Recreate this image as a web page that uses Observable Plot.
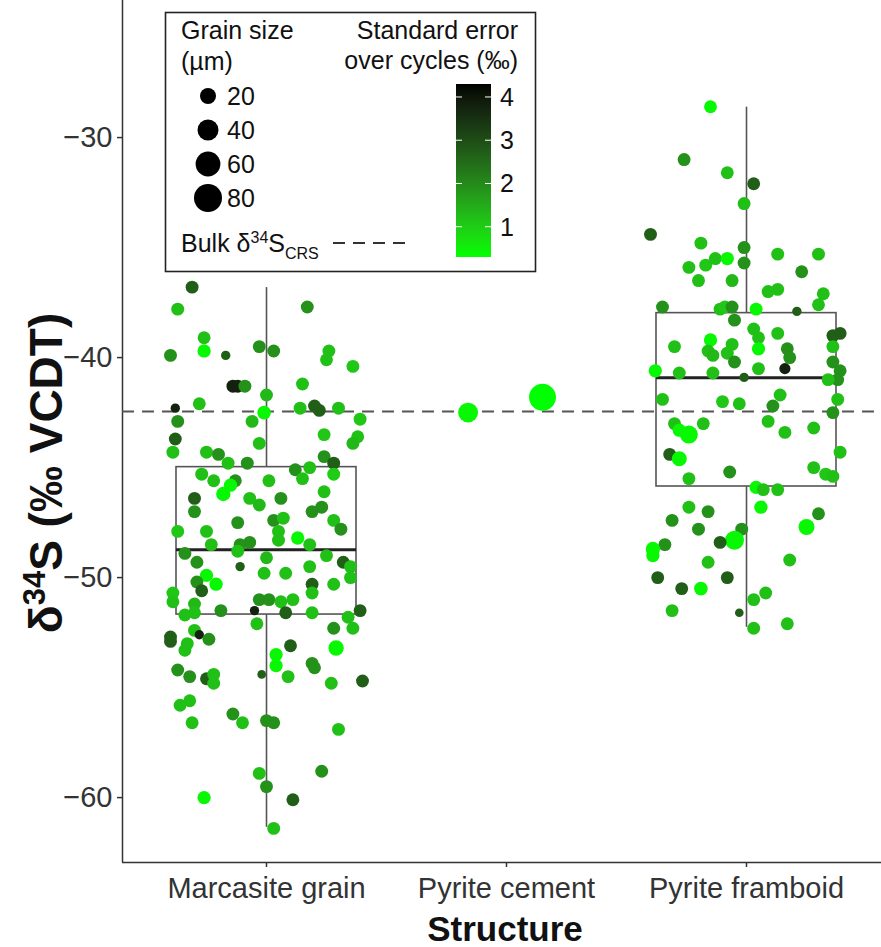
<!DOCTYPE html>
<html>
<head>
<meta charset="utf-8">
<script src="https://cdn.jsdelivr.net/npm/d3@7"></script>
<script src="https://cdn.jsdelivr.net/npm/@observablehq/plot@0.6"></script>
<style>
  html, body { margin: 0; padding: 0; background: #fff; }
  #wrap { position: relative; width: 881px; height: 947px; font-family: "Liberation Sans", Arial, sans-serif; }
  #wrap > svg { position: absolute; left: 0; top: 0; }
</style>
</head>
<body>
<div id="wrap"></div>
<script>
// ---------- data ----------
const categories = ["Marcasite grain", "Pyrite cement", "Pyrite framboid"];
const yTicks = [-60, -50, -40, -30];
const bulkD34S = -42.45;           // Bulk δ34S CRS
const seLegendTicks = [1, 2, 3, 4];
const sizeLegendValues = [20, 40, 60, 80];

// box statistics
const boxCategory = ["Marcasite grain", "Pyrite framboid"];
const boxLower  = [-61.35, -52.26];
const boxQ1     = [-51.68, -45.86];
const boxMedian = [-48.74, -40.92];
const boxQ3     = [-44.98, -37.98];
const boxUpper  = [-36.82, -28.62];

// Marcasite grain
const marcD34S = [
-36.8,-37.8,-37.7,-39.1,-39.7,-39.9,-39.9,-39.5,-39.7,-39.7,
-40.1,-40.4,-41.3,-41.3,-41.3,-41.7,-41.2,-42.1,-42.3,-42.9,
-42.5,-42.3,-42.2,-42.4,-42.3,-42.8,-42.9,-43.7,-44.3,-44.3,
-44.4,-43.9,-43.5,-43.6,-43.9,-44.5,-44.8,-44.8,-44.8,-45.1,
-45.0,-45.5,-45.3,-45.3,-45.6,-45.6,-45.6,-45.8,-46.2,-46.4,
-46.4,-46.7,-46.4,-46.1,-47.0,-47.0,-46.8,-47.5,-47.4,-47.3,
-47.9,-47.4,-47.8,-47.9,-47.9,-48.2,-48.3,-48.4,-48.5,-48.5,
-48.5,-48.9,-48.8,-49.1,-49.3,-49.5,-49.8,-49.5,-49.3,-49.0,
-49.5,-49.9,-50.3,-50.2,-50.6,-49.8,-50.3,-50.3,-50.0,-50.7,
-50.7,-51.0,-51.0,-51.1,-51.0,-51.1,-51.2,-51.5,-51.7,-51.6,
-51.5,-51.6,-51.6,-51.8,-51.5,-52.1,-52.3,-52.3,-52.7,-52.9,
-52.4,-52.6,-52.8,-53.0,-53.3,-53.1,-53.2,-53.5,-54.0,-53.9,
-54.1,-54.2,-54.5,-54.6,-54.4,-54.8,-54.4,-54.5,-54.8,-54.7,
-55.8,-55.6,-56.6,-56.2,-56.6,-56.5,-56.6,-56.9,-58.9,-58.8,
-59.5,-60.0,-60.1,-61.4];
const marcJitter = [
-0.31,-0.37,0.17,-0.26,-0.26,-0.40,-0.17,-0.03,0.03,0.26,
0.25,0.36,-0.14,-0.12,-0.09,0.00,0.15,-0.28,-0.38,-0.37,
-0.01,0.14,0.20,0.22,0.30,0.39,-0.06,-0.38,-0.39,-0.25,
-0.20,-0.03,0.24,0.38,0.36,0.24,-0.16,-0.08,0.28,0.12,
0.18,0.15,0.28,-0.27,-0.22,-0.13,0.01,-0.15,-0.18,-0.30,
-0.07,-0.03,0.06,0.24,-0.30,0.19,0.23,-0.12,0.03,0.07,
0.05,0.28,0.31,-0.37,-0.25,0.13,0.05,-0.07,-0.23,-0.11,
0.18,-0.34,-0.12,0.00,-0.29,-0.11,0.08,0.18,0.32,0.25,
0.35,-0.25,-0.21,-0.29,-0.27,-0.01,0.19,0.28,0.35,-0.39,
0.19,-0.03,0.01,0.06,0.11,-0.39,-0.30,-0.19,-0.34,-0.30,
-0.05,0.08,0.19,0.34,0.39,-0.04,0.28,0.36,-0.40,-0.40,
-0.30,-0.28,-0.24,-0.33,-0.34,0.10,0.29,0.04,0.04,0.19,
0.20,-0.37,-0.32,-0.25,-0.22,-0.22,-0.02,0.09,0.27,0.40,
-0.36,-0.32,-0.31,-0.14,-0.10,0.00,0.03,0.30,-0.03,0.23,
0.00,-0.26,0.11,0.03];
const marcSE = [
2.7,1.2,1.9,1.2,0.4,1.9,2.7,1.9,1.9,1.2,
1.2,1.1,3.8,3.8,1.9,1.3,1.2,1.2,3.8,1.9,
0.4,1.2,2.7,2.7,1.2,1.1,1.3,2.7,1.2,1.2,
1.9,1.2,1.1,1.2,1.3,1.9,1.2,1.9,2.7,1.9,
1.2,1.2,1.0,1.2,1.2,1.9,1.2,0.4,0.4,2.7,
1.2,1.3,1.9,1.2,1.9,1.9,1.9,1.9,1.9,1.2,
1.2,1.2,1.9,1.1,1.2,0.4,1.2,1.9,1.2,1.9,
1.2,1.9,1.2,1.3,1.9,2.7,1.2,1.2,2.7,1.2,
1.2,0.4,0.4,1.9,2.7,1.2,2.7,1.2,1.2,1.1,
1.2,1.9,1.9,1.2,1.2,1.2,1.3,1.9,1.2,1.2,
3.8,2.7,1.2,1.2,2.7,1.2,1.9,1.2,2.7,2.7,
1.2,3.8,1.9,1.2,1.2,2.7,0.4,0.4,0.4,1.9,
1.9,1.9,1.9,2.7,1.2,1.2,2.7,1.2,1.2,2.7,
1.2,1.2,1.2,1.9,1.2,1.9,1.9,1.2,1.2,1.9,
1.9,0.4,2.7,1.2];
const marcSize = [
11,11,11,11,12,11,4,11,11,11,
11,11,11,11,11,11,11,11,4,11,
13,11,11,11,11,11,11,11,11,11,
11,11,11,11,11,11,11,11,11,11,
11,11,11,11,11,11,11,12,15,11,
11,11,11,11,11,11,11,11,11,11,
11,11,11,11,11,12,11,11,11,11,
11,11,11,11,11,4,11,11,11,11,
11,12,12,11,11,11,11,11,11,11,
11,11,11,11,11,11,11,11,11,11,
4,11,11,11,11,11,11,11,11,11,
11,4,11,11,11,11,18,12,12,11,
11,11,11,11,11,11,3,11,11,11,
11,11,11,11,11,11,11,11,11,11,
11,12,11,11];

// Pyrite cement
const cemD34S = [-42.5, -41.8];
const cemJitter = [-0.16, 0.15];
const cemSE = [0.4, 0.3];
const cemSize = [35, 73];

// Pyrite framboid
const framD34S = [
-28.6,-31.0,-31.6,-32.1,-33.0,-34.4,-34.8,-35.0,-35.7,-35.3,
-35.3,-35.9,-35.8,-35.5,-35.5,-36.5,-36.5,-36.1,-37.0,-36.9,
-37.1,-37.6,-37.7,-37.8,-37.7,-37.7,-38.3,-37.8,-37.9,-38.7,
-39.1,-39.6,-38.9,-39.5,-39.2,-39.7,-39.9,-39.4,-39.8,-40.2,
-39.6,-40.0,-40.5,-38.9,-39.0,-39.5,-40.2,-40.6,-41.0,-40.6,
-40.7,-40.7,-40.5,-40.9,-41.0,-41.9,-42.0,-42.1,-41.7,-42.2,
-41.9,-42.5,-43.0,-43.5,-43.0,-43.3,-42.9,-43.4,-43.2,-44.4,
-44.6,-45.2,-45.5,-44.3,-45.0,-45.3,-45.4,-45.9,-46.0,-46.0,
-46.8,-47.0,-46.8,-47.4,-47.8,-47.1,-47.7,-47.8,-48.3,-48.4,
-48.5,-48.7,-49.0,-49.3,-49.2,-50.0,-50.5,-50.5,-50.0,-51.5,
-51.0,-50.7,-51.6,-52.3,-52.1];
const framJitter = [
-0.15,-0.26,-0.08,0.03,-0.01,-0.40,-0.19,-0.01,-0.01,0.13,
0.30,-0.24,-0.17,-0.13,-0.08,-0.20,-0.06,0.23,0.09,0.13,
0.32,0.30,-0.35,-0.11,-0.09,-0.06,-0.05,0.04,0.21,0.03,
0.05,0.05,0.13,-0.30,-0.15,-0.16,-0.14,-0.06,-0.08,-0.05,
0.17,0.18,0.16,0.39,0.36,0.36,0.36,0.39,0.38,-0.38,
-0.28,-0.14,0.05,-0.01,0.34,-0.35,-0.10,-0.03,0.14,0.11,
0.38,0.36,-0.30,-0.24,-0.18,-0.28,0.09,0.16,0.28,-0.32,
-0.28,-0.07,-0.24,0.39,0.28,0.33,0.36,0.04,0.07,0.13,
-0.24,-0.16,0.06,-0.31,-0.20,0.30,0.25,-0.02,-0.05,-0.11,
-0.34,-0.39,-0.39,-0.16,0.18,-0.37,-0.27,-0.19,-0.08,-0.31,
0.03,0.08,-0.03,0.03,0.17];
const framSE = [
0.4,1.9,1.2,2.7,1.2,2.7,1.2,1.9,1.9,1.2,
1.2,1.2,1.1,1.2,0.4,1.2,1.3,1.9,1.2,1.2,
1.2,1.2,1.9,1.2,1.1,1.9,1.9,0.4,2.7,1.2,
1.2,0.4,1.2,1.2,0.4,1.2,1.3,1.2,1.2,1.9,
1.9,1.9,3.8,2.7,2.7,1.2,1.9,1.9,1.9,0.4,
1.2,1.2,1.2,2.7,1.2,1.2,1.1,1.2,1.2,1.9,
1.2,1.9,1.2,0.4,1.2,0.4,1.2,1.2,1.2,2.7,
0.4,1.9,1.2,1.2,1.2,1.1,1.2,0.4,1.2,1.2,
1.2,1.9,0.4,1.9,1.9,1.9,0.4,1.9,0.4,2.7,
1.9,0.4,0.4,1.2,1.2,2.7,2.7,0.4,2.7,1.2,
1.2,1.2,2.7,1.2,1.2];
const framSize = [
11,11,11,11,11,11,11,11,11,11,
11,11,11,11,12,11,11,11,11,11,
11,11,11,11,11,11,11,11,4,11,
11,12,11,11,12,11,11,11,11,11,
11,11,7,11,11,11,11,11,11,12,
11,11,11,4,11,11,11,11,11,11,
11,11,11,27,11,12,11,11,11,11,
17,11,11,11,11,11,11,12,11,11,
11,11,12,11,11,11,20,11,31,11,
11,15,12,11,11,11,11,13,11,11,
11,11,3,11,11];

// ---------- build tables ----------
function rows(cat, d34s, jit, se, size) {
  const idx = categories.indexOf(cat) + 1;
  return d34s.map((v, i) => ({structure: cat, pos: idx + jit[i], d34s: v, se: se[i], size: size[i]}));
}
const points = [
  ...rows("Marcasite grain", marcD34S, marcJitter, marcSE, marcSize),
  ...rows("Pyrite cement", cemD34S, cemJitter, cemSE, cemSize),
  ...rows("Pyrite framboid", framD34S, framJitter, framSE, framSize)
];
const boxes = boxCategory.map((c, i) => ({
  pos: categories.indexOf(c) + 1,
  lo: boxLower[i], q1: boxQ1[i], med: boxMedian[i], q3: boxQ3[i], hi: boxUpper[i]
}));

// ---------- scales ----------
const yDomain = [-62.95, -23.77];
const xDomain = [0.4, 3.5625];
const boxHalf = 0.375;
const colorOpts = {type: "linear", domain: [0.3, 4.3], range: ["#00ff00", "#000000"], interpolate: "lab"};
const rOpts = {type: "sqrt", domain: [0, 80], range: [2, 14]};
const fmt = d => d < 0 ? "\u2212" + Math.abs(d) : String(d);

const W = 881, H = 947, mL = 122, mB = 85;

const chart = Plot.plot({
  width: W, height: H,
  marginLeft: mL, marginRight: 0, marginTop: 0, marginBottom: mB,
  style: {fontFamily: "'Liberation Sans', Arial, sans-serif", background: "white", overflow: "visible"},
  x: {domain: xDomain, axis: null},
  y: {domain: yDomain, axis: null},
  r: rOpts,
  color: colorOpts,
  marks: [
    Plot.axisY({ticks: yTicks, tickFormat: fmt, tickSize: 5, tickPadding: 5, fontSize: 29, color: "#333", strokeWidth: 1.5, label: null}),
    Plot.axisX({ticks: [1, 2, 3], tickFormat: i => categories[i - 1], tickSize: 5, tickPadding: 10, fontSize: 29, color: "#333", strokeWidth: 1.5, label: null}),
    Plot.ruleX([xDomain[0]], {stroke: "#333", strokeWidth: 1.5}),
    Plot.ruleY([yDomain[0]], {stroke: "#333", strokeWidth: 1.5}),
    // whiskers
    Plot.ruleX(boxes, {x: "pos", y1: "lo", y2: "q1", stroke: "#555", strokeWidth: 1.6}),
    Plot.ruleX(boxes, {x: "pos", y1: "q3", y2: "hi", stroke: "#555", strokeWidth: 1.6}),
    // boxes
    Plot.rect(boxes, {x1: d => d.pos - boxHalf, x2: d => d.pos + boxHalf, y1: "q1", y2: "q3", fill: "none", stroke: "#555", strokeWidth: 1.6}),
    Plot.ruleY(boxes, {x1: d => d.pos - boxHalf, x2: d => d.pos + boxHalf, y: "med", stroke: "#222", strokeWidth: 3}),
    // bulk line
    Plot.ruleY([bulkD34S], {stroke: "#555", strokeWidth: 2, strokeDasharray: "12,8"}),
    // points
    Plot.dot(points, {x: "pos", y: "d34s", r: "size", fill: "se", sort: null})
  ]
});
const wrap = document.getElementById("wrap");
wrap.appendChild(chart);

// ---------- overlay: titles and legend ----------
const colorScale = Plot.scale({color: colorOpts});
const rScale = Plot.scale({r: rOpts});
const ns = "http://www.w3.org/2000/svg";
const ov = d3.select(wrap).append("svg")
  .attr("xmlns", ns).attr("width", W).attr("height", H)
  .style("font-family", "'Liberation Sans', Arial, sans-serif");

// y axis title
const yt = ov.append("text")
  .attr("transform", "translate(62,473) rotate(-90)")
  .attr("text-anchor", "middle").attr("font-weight", "bold").attr("font-size", 46).attr("fill", "#111");
yt.append("tspan").text("δ");
yt.append("tspan").attr("dy", -17).attr("font-size", 31).text("34");
yt.append("tspan").attr("dy", 17).text("S (‰ VCDT)");

// x axis title
ov.append("text").attr("x", 505).attr("y", 941).attr("text-anchor", "middle")
  .attr("font-weight", "bold").attr("font-size", 35).attr("fill", "#111").text("Structure");

// legend box
const lg = ov.append("g");
lg.append("rect").attr("x", 165.5).attr("y", 12.5).attr("width", 370).attr("height", 259)
  .attr("fill", "white").attr("stroke", "#222").attr("stroke-width", 1.6);
const lf = 25;
lg.append("text").attr("x", 181).attr("y", 39).attr("font-size", lf).attr("fill", "#111").text("Grain size");
lg.append("text").attr("x", 181).attr("y", 70).attr("font-size", lf).attr("fill", "#111").text("(µm)");
const sizeY = [96, 130, 164, 198];
sizeLegendValues.forEach((v, i) => {
  lg.append("circle").attr("cx", 208).attr("cy", sizeY[i]).attr("r", rScale.apply(v)).attr("fill", "black");
  lg.append("text").attr("x", 227).attr("y", sizeY[i] + 9).attr("font-size", lf).attr("fill", "#111").text(String(v));
});
const bt = lg.append("text").attr("x", 181).attr("y", 252).attr("font-size", lf).attr("fill", "#111");
bt.append("tspan").text("Bulk δ");
bt.append("tspan").attr("dy", -9).attr("font-size", 16).text("34");
bt.append("tspan").attr("dy", 9).text("S");
bt.append("tspan").attr("dy", 7).attr("font-size", 16).text("CRS");
lg.append("line").attr("x1", 333).attr("x2", 411).attr("y1", 243).attr("y2", 243)
  .attr("stroke", "#333").attr("stroke-width", 2).attr("stroke-dasharray", "12,8");

lg.append("text").attr("x", 518).attr("y", 39).attr("text-anchor", "end").attr("font-size", lf).attr("fill", "#111").text("Standard error");
lg.append("text").attr("x", 518).attr("y", 69).attr("text-anchor", "end").attr("font-size", lf).attr("fill", "#111").text("over cycles (‰)");

// colour bar
const barX = 456, barW = 35, barTop = 84, barBot = 257;
const seToY = v => barBot - (v - colorOpts.domain[0]) / (colorOpts.domain[1] - colorOpts.domain[0]) * (barBot - barTop);
const defs = ov.append("defs");
const grad = defs.append("linearGradient").attr("id", "segrad").attr("x1", 0).attr("y1", 1).attr("x2", 0).attr("y2", 0);
d3.range(0, 21).forEach(k => {
  const t = k / 20;
  const v = colorOpts.domain[0] + t * (colorOpts.domain[1] - colorOpts.domain[0]);
  grad.append("stop").attr("offset", t).attr("stop-color", colorScale.apply(v));
});
lg.append("rect").attr("x", barX).attr("y", barTop).attr("width", barW).attr("height", barBot - barTop).attr("fill", "url(#segrad)");
seLegendTicks.forEach(v => {
  const y = seToY(v);
  lg.append("line").attr("x1", barX).attr("x2", barX + 6).attr("y1", y).attr("y2", y).attr("stroke", "white").attr("stroke-width", 1);
  lg.append("line").attr("x1", barX + barW - 6).attr("x2", barX + barW).attr("y1", y).attr("y2", y).attr("stroke", "white").attr("stroke-width", 1);
  lg.append("text").attr("x", barX + barW + 9).attr("y", y + 9).attr("font-size", lf).attr("fill", "#111").text(String(v));
});
</script>
</body>
</html>
